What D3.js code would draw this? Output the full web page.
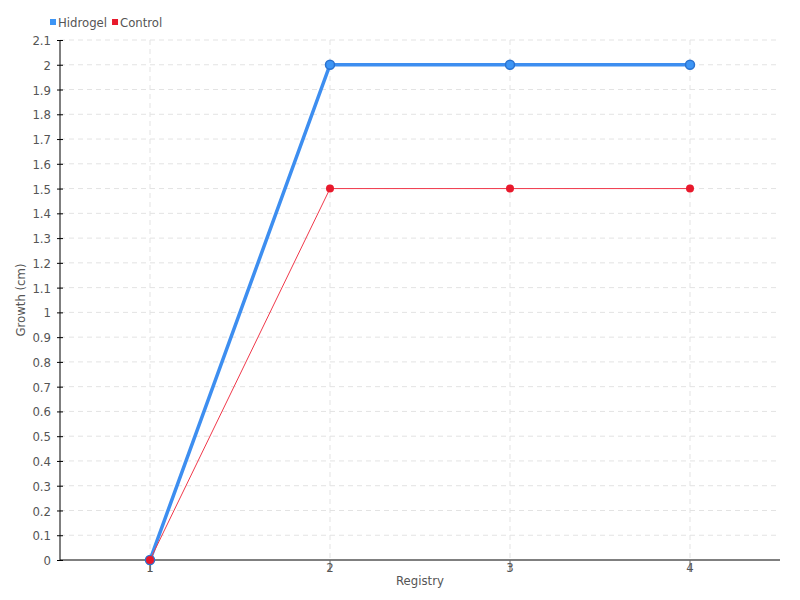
<!DOCTYPE html>
<html>
<head>
<meta charset="utf-8">
<script src="https://cdn.jsdelivr.net/npm/d3@7"></script>
<style>
  body { margin: 0; background: #fff; }
  svg text { font-family: "DejaVu Sans Condensed", "Liberation Sans Narrow", "DejaVu Sans", sans-serif; font-stretch: condensed; fill: #555; }
  .grid line { stroke: #e3e3e3; stroke-dasharray: 5,4; }
</style>
</head>
<body>
<div class="container"></div>
<script>
const registry = ["1", "2", "3", "4"];
const hidrogel = [0, 2, 2, 2];
const control = [0, 1.5, 1.5, 1.5];
const yTicks = d3.range(0, 22).map(i => i / 10);

const width = 800;
const height = 600;
const margin = {top: 40, right: 20, bottom: 40, left: 60};

const svg = d3.select(".container").append("svg").attr("width", width).attr("height", height);

const x = d3.scaleBand().domain(registry).range([margin.left, width - margin.right]);
const y = d3.scaleLinear().domain([0, 2.1]).range([height - margin.bottom, margin.top]);
const cx = d => x(d) + x.bandwidth() / 2;

// grid
svg.append("g").attr("class", "grid")
  .selectAll("line").data(yTicks.slice(1)).enter().append("line")
    .attr("x1", margin.left).attr("x2", width - margin.right)
    .attr("y1", d => y(d)).attr("y2", d => y(d));
svg.append("g").attr("class", "grid")
  .selectAll("line").data(registry).enter().append("line")
    .attr("x1", d => cx(d)).attr("x2", d => cx(d))
    .attr("y1", margin.top).attr("y2", height - margin.bottom);

// axes
const yAxis = svg.append("g").attr("transform", `translate(${margin.left},0)`)
  .call(d3.axisLeft(y).tickValues(yTicks).tickSize(4).tickPadding(5).tickFormat(d => d3.format("~g")(d)));
yAxis.selectAll(".tick line").attr("x1", -3).attr("x2", 3).attr("stroke", "#000");
yAxis.select(".domain").attr("stroke", "#000").attr("d", `M0,${y(0)}V${margin.top}`);
yAxis.selectAll("text").style("font-size", "13px").attr("dy", "0.35em");

const xAxis = svg.append("g").attr("transform", `translate(0,${height - margin.bottom})`)
  .call(d3.axisBottom(x).tickSize(12).tickPadding(3));
xAxis.selectAll(".tick line").attr("stroke", "#666");
xAxis.select(".domain").attr("stroke", "#000").attr("d", `M${margin.left},0H${width - margin.right}`);
xAxis.selectAll("text").style("font-size", "13px").attr("y", 3).attr("dy", "0.71em");

svg.append("text").attr("x", (margin.left + width - margin.right) / 2).attr("y", 585)
  .attr("text-anchor", "middle").style("font-size", "13px").text("Registry");
svg.append("text").attr("transform", `translate(25,${(margin.top + height - margin.bottom) / 2}) rotate(-90)`)
  .attr("text-anchor", "middle").style("font-size", "13px").text("Growth (cm)");

// series
const line = d3.line().x((d, i) => cx(registry[i])).y(d => y(d));

svg.append("path").datum(hidrogel).attr("d", line)
  .attr("fill", "none").attr("stroke", "#3d8ef0").attr("stroke-width", 3.5);
svg.append("g").selectAll("circle").data(hidrogel).enter().append("circle")
  .attr("cx", (d, i) => cx(registry[i])).attr("cy", d => y(d)).attr("r", 4.5)
  .attr("fill", "#3d95f5").attr("stroke", "#2a72d0").attr("stroke-width", 1.5);

svg.append("path").datum(control).attr("d", line)
  .attr("fill", "none").attr("stroke", "#f0384a").attr("stroke-width", 1);
svg.append("g").selectAll("circle").data(control).enter().append("circle")
  .attr("cx", (d, i) => cx(registry[i])).attr("cy", d => y(d)).attr("r", 4)
  .attr("fill", "#e8192c");

// legend
const legend = [{name: "Hidrogel", color: "#3d95f5"}, {name: "Control", color: "#e8192c"}];
const lg = svg.append("g").attr("transform", "translate(50,22)");
let lx = 0;
legend.forEach(l => {
  lg.append("rect").attr("x", lx).attr("y", -3).attr("width", 6).attr("height", 6).attr("fill", l.color);
  const t = lg.append("text").attr("x", lx + 8).attr("y", 0).attr("dy", "0.35em")
    .style("font-size", "13px").text(l.name);
  lx += 8 + t.node().getComputedTextLength() + 5;
});
</script>
</body>
</html>
